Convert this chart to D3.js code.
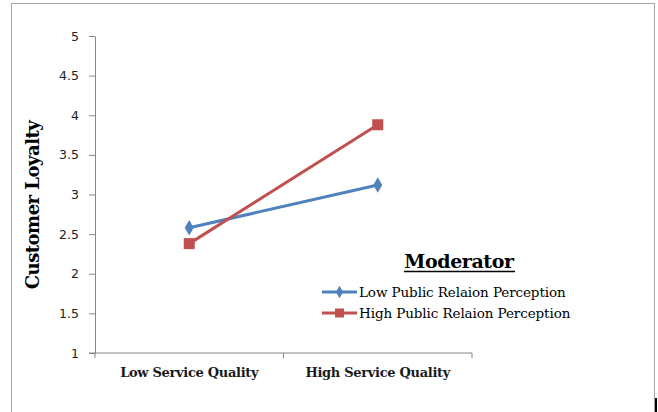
<!DOCTYPE html>
<html>
<head>
<meta charset="utf-8">
<script src="https://cdn.jsdelivr.net/npm/d3@7"></script>
<style>
  body { margin: 0; background: #fff; }
  svg { display: block; }
</style>
</head>
<body>
<svg id="chart"></svg>
<script>
// Chart data
const categories = ["Low Service Quality", "High Service Quality"];
const seriesNames = ["Low Public Relaion Perception", "High Public Relaion Perception"];
const lowPR = [2.58, 3.12];
const highPR = [2.38, 3.88];
const yTicks = [1, 1.5, 2, 2.5, 3, 3.5, 4, 4.5, 5];

const colors = ["#4F81BD", "#C0504D"];
const serif = "DejaVu Serif, serif";

const W = 658, H = 412;
const plot = {left: 95, right: 472, top: 36, bottom: 353};

const svg = d3.select("#chart").attr("width", W).attr("height", H);

// outer frame
svg.append("rect")
    .attr("x", 11.5).attr("y", 3.5)
    .attr("width", 643).attr("height", 420)
    .attr("fill", "none").attr("stroke", "#a6a6a6");

// scales
var xScale = d3.scaleBand().domain(categories).range([plot.left, plot.right]);
var yScale = d3.scaleLinear().domain([1, 5]).range([plot.bottom, plot.top]);

// y axis
var yAxis = d3.axisLeft(yScale).tickValues(yTicks).tickSize(6).tickSizeOuter(0)
    .tickFormat(d3.format(""));
var gy = svg.append("g").attr("transform", "translate(" + plot.left + ",0)").call(yAxis);
gy.select(".domain").attr("stroke", "#868686");
gy.selectAll(".tick line").attr("stroke", "#868686");
gy.selectAll(".tick text")
    .attr("x", -16)
    .style("font-family", "DejaVu Sans, sans-serif")
    .style("font-size", "12.5px")
    .attr("fill", "#222");

// x axis
var gx = svg.append("g").attr("transform", "translate(0," + plot.bottom + ")");
gx.append("line")
    .attr("x1", plot.left - 6).attr("x2", plot.right)
    .attr("stroke", "#868686");
gx.selectAll(".xtick")
    .data([plot.left, xScale(categories[1]), plot.right])
    .enter().append("line")
    .attr("x1", d => d).attr("x2", d => d)
    .attr("y1", 0).attr("y2", 5)
    .attr("stroke", "#868686");
gx.selectAll(".xlabel")
    .data(categories)
    .enter().append("text")
    .attr("x", d => xScale(d) + xScale.bandwidth() / 2)
    .attr("y", 24)
    .attr("text-anchor", "middle")
    .style("font-family", serif)
    .style("font-weight", "bold")
    .style("font-size", "13px")
    .style("letter-spacing", "-0.3px")
    .attr("fill", "#1a1a1a")
    .text(d => d);

// y title
svg.append("text")
    .attr("transform", "translate(39,205) rotate(-90)")
    .attr("text-anchor", "middle")
    .style("font-family", serif)
    .style("font-weight", "bold")
    .style("font-size", "18px")
    .style("letter-spacing", "-0.5px")
    .attr("fill", "#000")
    .text("Customer Loyalty");

// lines
var cx = d => xScale(d) + xScale.bandwidth() / 2;
var series = [lowPR, highPR];
var line = d3.line().x((d, i) => cx(categories[i])).y(d => yScale(d));

series.forEach(function(vals, s) {
  svg.append("path")
      .datum(vals)
      .attr("d", line)
      .attr("fill", "none")
      .attr("stroke", colors[s])
      .attr("stroke-width", 3);
});

// markers
var diamond = d3.symbol().type(d3.symbolDiamond).size(70);
svg.selectAll(".m0").data(lowPR).enter().append("path")
    .attr("d", diamond)
    .attr("transform", (d, i) => "translate(" + cx(categories[i]) + "," + yScale(d) + ")")
    .attr("fill", colors[0]);
svg.selectAll(".m1").data(highPR).enter().append("rect")
    .attr("x", (d, i) => cx(categories[i]) - 5.5)
    .attr("y", d => yScale(d) - 5.5)
    .attr("width", 11).attr("height", 11)
    .attr("fill", colors[1]);

// legend
var legend = svg.append("g");
legend.append("text")
    .attr("x", 459).attr("y", 268)
    .attr("text-anchor", "middle")
    .style("font-family", serif)
    .style("font-weight", "bold")
    .style("font-size", "19px")
    .style("letter-spacing", "-0.4px")
    .attr("fill", "#000")
    .text("Moderator");
legend.append("line")
    .attr("x1", 404).attr("x2", 515)
    .attr("y1", 271.5).attr("y2", 271.5)
    .attr("stroke", "#000").attr("stroke-width", 1.3);

var ly = [292, 313];
seriesNames.forEach(function(name, s) {
  legend.append("line")
      .attr("x1", 322).attr("x2", 357)
      .attr("y1", ly[s]).attr("y2", ly[s])
      .attr("stroke", colors[s]).attr("stroke-width", 3);
  if (s === 0) {
    legend.append("path")
        .attr("d", d3.symbol().type(d3.symbolDiamond).size(45))
        .attr("transform", "translate(339.5," + ly[s] + ")")
        .attr("fill", colors[s]);
  } else {
    legend.append("rect")
        .attr("x", 335).attr("y", ly[s] - 4.5)
        .attr("width", 9).attr("height", 9)
        .attr("fill", colors[s]);
  }
  legend.append("text")
      .attr("x", 359).attr("y", ly[s] + 4.5)
      .style("font-family", serif)
      .style("font-size", "13.5px")
      .style("letter-spacing", "-0.1px")
      .attr("fill", "#000")
      .text(name);
});

// small black mark at bottom right
svg.append("rect")
    .attr("x", 655).attr("y", 398)
    .attr("width", 2).attr("height", 14)
    .attr("fill", "#000");
</script>
</body>
</html>
